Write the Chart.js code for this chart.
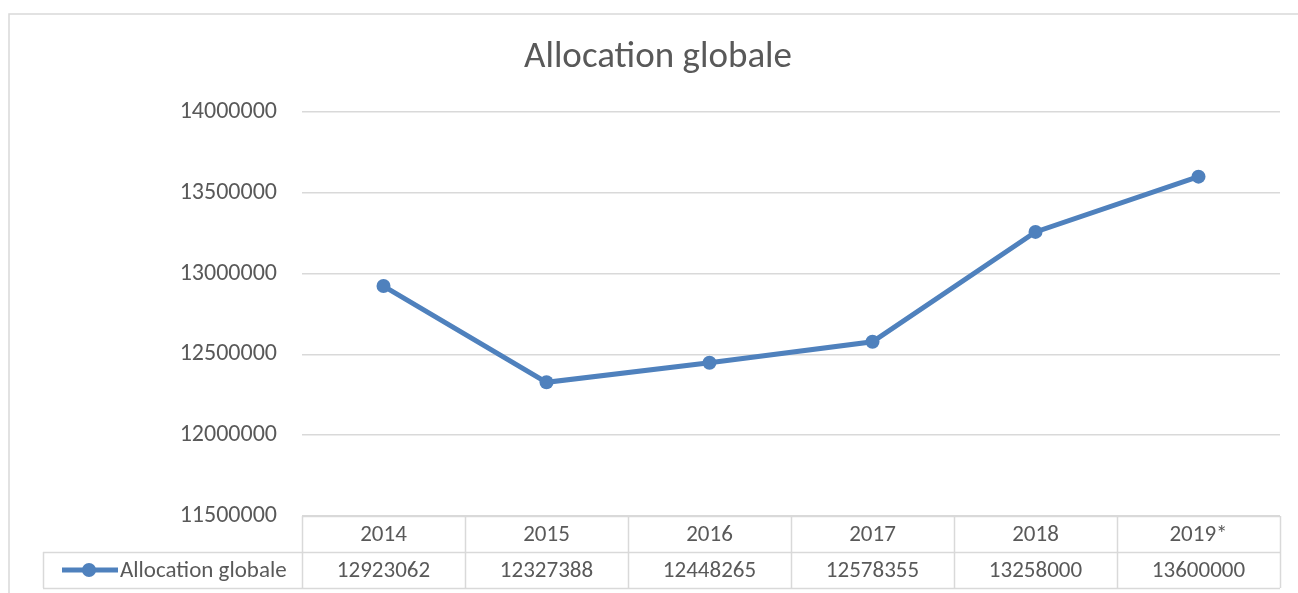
<!DOCTYPE html>
<html>
<head>
<meta charset="utf-8">
<script src="https://cdn.jsdelivr.net/npm/chart.js@4"></script>
<style>
html,body{margin:0;padding:0;background:#fff;}
#wrap{width:1298px;height:593px;position:relative;}
</style>
</head>
<body>
<div id="wrap"><canvas id="c" width="1298" height="593"></canvas></div>
<script>
const chartTitle = "Allocation globale";
const seriesName = "Allocation globale";
const categories = ["2014", "2015", "2016", "2017", "2018", "2019*"];
const values = [12923062, 12327388, 12448265, 12578355, 13258000, 13600000];
const yMin = 11500000, yMax = 14000000, yStep = 500000;

const FONT = "Calibri, Carlito, Lato, 'Open Sans', sans-serif";
const TEXT = "#595959";
const GRID = "#d9d9d9";
const LINE = "#4f81bd";

const tablePlugin = {
  id: 'tablePlugin',
  afterDraw(chart) {
    const ctx = chart.ctx;
    const x = chart.scales.x;
    const area = chart.chartArea;
    const n = categories.length;
    const w = (area.right - area.left) / n;
    const top = area.bottom, mid = top + 36, bot = mid + 36;
    const legendLeft = 43;
    ctx.save();
    // outer border
    ctx.strokeStyle = GRID;
    ctx.lineWidth = 1.5;
    ctx.strokeRect(9, 14, 1400, 700);
    // title
    ctx.fillStyle = TEXT;
    ctx.font = "37px " + FONT;
    ctx.textAlign = 'center';
    ctx.textBaseline = 'middle';
    ctx.fillText(chartTitle, 658, 58);
    // table lines
    ctx.strokeStyle = GRID;
    ctx.lineWidth = 1.5;
    ctx.beginPath();
    ctx.moveTo(area.left, top + 0.5); ctx.lineTo(area.right, top + 0.5);
    ctx.moveTo(legendLeft, mid + 0.5); ctx.lineTo(area.right, mid + 0.5);
    ctx.moveTo(legendLeft, bot + 0.5); ctx.lineTo(area.right, bot + 0.5);
    ctx.moveTo(legendLeft + 0.5, mid); ctx.lineTo(legendLeft + 0.5, bot);
    for (let i = 0; i <= n; i++) {
      const cx = (i < n ? x.getPixelForValue(i) - w / 2 : x.getPixelForValue(n - 1) + w / 2);
      ctx.moveTo(Math.round(cx) + 0.5, top); ctx.lineTo(Math.round(cx) + 0.5, bot);
    }
    ctx.stroke();
    // texts
    ctx.fillStyle = TEXT;
    ctx.font = "23px " + FONT;
    ctx.textAlign = 'center';
    ctx.textBaseline = 'middle';
    for (let i = 0; i < n; i++) {
      const cx = x.getPixelForValue(i);
      ctx.fillText(categories[i], cx, (top + mid) / 2 + 1);
      ctx.fillText(String(values[i]), cx, (mid + bot) / 2 + 1);
    }
    // legend key
    const ly = (mid + bot) / 2;
    ctx.strokeStyle = LINE;
    ctx.lineWidth = 5;
    ctx.beginPath();
    ctx.moveTo(62, ly); ctx.lineTo(118, ly);
    ctx.stroke();
    ctx.fillStyle = LINE;
    ctx.beginPath();
    ctx.arc(89, ly, 7, 0, Math.PI * 2);
    ctx.fill();
    ctx.fillStyle = TEXT;
    ctx.textAlign = 'left';
    ctx.fillText(seriesName, 120, ly + 1);
    ctx.restore();
  }
};

new Chart(document.getElementById('c'), {
  type: 'line',
  data: {
    labels: categories,
    datasets: [{
      label: seriesName,
      data: values,
      borderColor: LINE,
      backgroundColor: LINE,
      borderWidth: 5,
      pointRadius: 7,
      pointHoverRadius: 7,
      pointBackgroundColor: LINE,
      pointBorderColor: LINE,
      pointBorderWidth: 0,
      tension: 0
    }]
  },
  options: {
    responsive: false,
    animation: false,
    layout: { padding: { top: 112, right: 18, bottom: 77, left: 0 } },
    plugins: { legend: { display: false }, title: { display: false }, tooltip: { enabled: false } },
    scales: {
      x: { display: false, offset: true },
      y: {
        min: yMin, max: yMax,
        afterFit(s) { s.width = 302; },
        border: { display: false },
        grid: { color: GRID, lineWidth: 1.5, drawTicks: false },
        ticks: {
          stepSize: yStep,
          padding: 25,
          color: TEXT,
          font: { family: FONT, size: 24 },
          callback: v => String(v)
        }
      }
    }
  },
  plugins: [tablePlugin]
});
</script>
</body>
</html>
